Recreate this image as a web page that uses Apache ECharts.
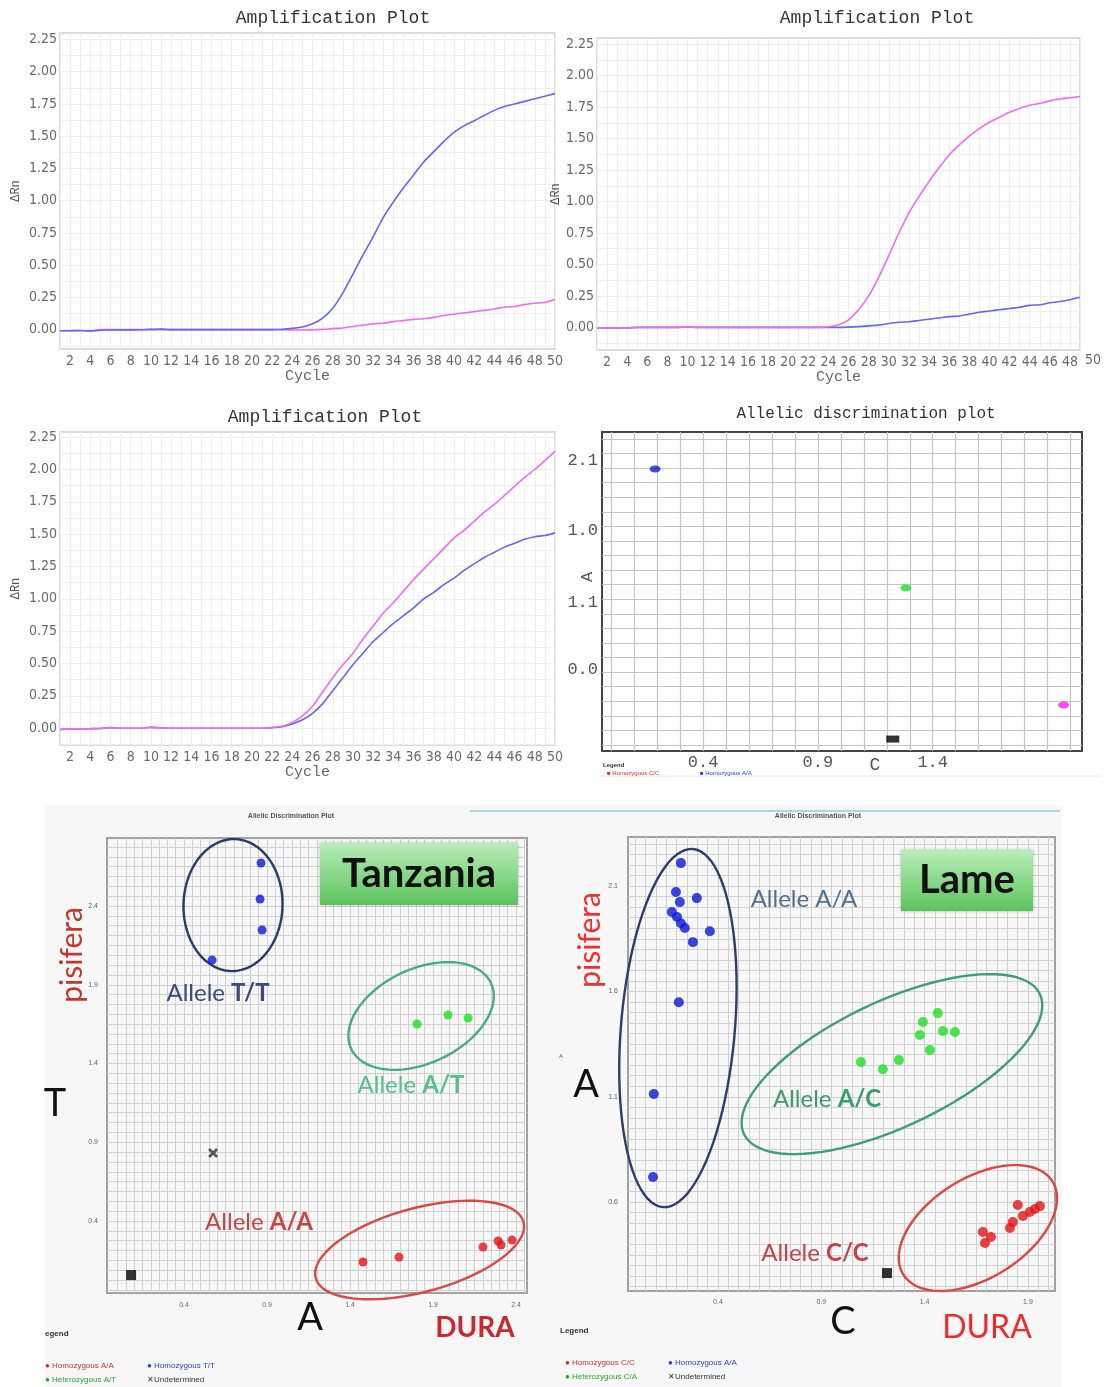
<!DOCTYPE html>
<html><head><meta charset="utf-8">
<script src="https://cdn.jsdelivr.net/npm/echarts@6/dist/echarts.min.js"></script>
<style>html,body{margin:0;padding:0;background:#fff}#c{width:1108px;height:1387px}</style>
</head><body><div id="c"></div><script>
// ---------- amplification plots ----------
const cycles = [1,2,3,4,5,6,7,8,9,10,11,12,13,14,15,16,17,18,19,20,21,22,23,24,25,26,27,28,29,30,31,32,33,34,35,36,37,38,39,40,41,42,43,44,45,46,47,48,49,50];
const amp1Blue = [-0.01,-0.008,-0.006,-0.01,-0.005,-0.003,-0.002,-0.002,-0.001,0.002,0.004,0,0,0,0,0,0,0,0,0,0,0,0.003,0.01,0.02,0.045,0.09,0.165,0.285,0.43,0.58,0.72,0.87,0.99,1.10,1.20,1.30,1.38,1.46,1.53,1.58,1.62,1.66,1.70,1.73,1.75,1.77,1.79,1.81,1.83];
const amp1Pink = [-0.008,-0.008,-0.008,-0.008,0,0,0,0,0,0,0,0,0,0,0,0,0,0,0,0,0,0,-0.002,-0.003,-0.003,-0.002,0.002,0.008,0.013,0.025,0.035,0.045,0.05,0.062,0.07,0.08,0.085,0.095,0.11,0.12,0.13,0.14,0.15,0.16,0.175,0.18,0.195,0.205,0.21,0.235];
const amp2Pink = [-0.005,-0.005,-0.004,-0.005,0,0,0,0,0,0.003,0,0,0,0,0,0,0,0,0,0,0,0,0,0.005,0.02,0.06,0.14,0.25,0.40,0.57,0.75,0.91,1.04,1.16,1.27,1.37,1.45,1.52,1.58,1.63,1.67,1.71,1.74,1.765,1.78,1.80,1.815,1.825,1.835];
const amp2Blue = [-0.005,-0.005,-0.005,-0.005,0,0,0,0,0,0.002,0,0,0,0,0,0,0,0,0,0,0,0,0,0,0,0.002,0.006,0.012,0.018,0.03,0.04,0.045,0.055,0.065,0.075,0.085,0.09,0.105,0.12,0.13,0.14,0.15,0.16,0.175,0.18,0.195,0.205,0.22,0.24];
const amp3Pink = [-0.01,-0.005,-0.005,-0.004,-0.002,0.004,0,0,0,0.006,0.003,0,0,0,0,0,0,0,0,0,0,0.005,0.015,0.045,0.095,0.17,0.28,0.39,0.49,0.58,0.69,0.79,0.89,0.97,1.06,1.15,1.23,1.31,1.39,1.47,1.53,1.60,1.67,1.73,1.80,1.87,1.94,2.00,2.07,2.14];
const amp3Blue = [-0.01,-0.005,-0.005,-0.004,-0.002,0.004,0,0,0,0.006,0.003,0,0,0,0,0,0,0,0,0,0,0.004,0.012,0.033,0.065,0.115,0.19,0.29,0.39,0.49,0.58,0.67,0.74,0.81,0.87,0.93,1.00,1.05,1.11,1.16,1.22,1.27,1.32,1.36,1.40,1.43,1.46,1.48,1.49,1.51];
const ampXLabels = [2,4,6,8,10,12,14,16,18,20,22,24,26,28,30,32,34,36,38,40,42,44,46,48,50];
const ampYLabels = [0,0.25,0.5,0.75,1,1.25,1.5,1.75,2,2.25];
const ampYGrid = [-0.125,0,0.125,0.25,0.375,0.5,0.625,0.75,0.875,1,1.125,1.25,1.375,1.5,1.625,1.75,1.875,2,2.125,2.25];

// ---------- allelic discrimination (middle right) ----------
const adHomAA = [[0.191,1.894]];
const adHet = [[1.283,1.078]];
const adHomCC = [[1.97,0.275]];
const adNTC = [[1.226,0.041]];
const adXLabels = [0.4,0.9,1.4];
const adYLabelPos = [0.52,0.98,1.47,1.95];
const adYLabels = ['0.0','1.1','1.0','2.1'];

// ---------- Tanzania ----------
const tzHomTT = [[0.864,2.673],[0.858,2.444],[0.870,2.248],[0.569,2.057]];
const tzHetAT = [[1.804,1.651],[1.990,1.708],[2.111,1.689]];
const tzHomAA = [[1.478,0.140],[1.695,0.171],[2.201,0.235],[2.292,0.273],[2.310,0.248],[2.376,0.279]];
const tzUndet = [[0.575,0.832]];
const tzNTC = [[0.081,0.057]];
const tzXLabels = [0.4,0.9,1.4,1.9,2.4];
const tzYLabels = [0.4,0.9,1.4,1.9,2.4];
// ellipse annotations: [centerX, centerY, majorTipX, majorTipY, minor/major]
const tzEllTT = [[0.695,2.406,0.707,2.825,0.75]];
const tzEllAT = [[1.828,1.702,2.249,1.911,0.61]];
const tzEllAA = [[1.819,0.216,2.445,0.394,0.39]];

// ---------- Lame ----------
const lmHomAA = [[0.221,2.209],[0.197,2.072],[0.298,2.043],[0.216,2.024],[0.177,1.977],[0.202,1.953],[0.221,1.924],[0.240,1.901],[0.361,1.886],[0.279,1.834],[0.211,1.549],[0.090,1.113],[0.086,0.719]];
const lmHetAC = [[1.464,1.497],[1.392,1.455],[1.377,1.393],[1.489,1.412],[1.547,1.407],[1.426,1.322],[1.276,1.274],[1.198,1.231],[1.092,1.265]];
const lmHomCC = [[1.851,0.586],[1.958,0.581],[1.934,0.567],[1.909,0.553],[1.876,0.534],[1.827,0.505],[1.813,0.477],[1.682,0.458],[1.721,0.434],[1.692,0.406]];
const lmNTC = [[1.218,0.263]];
const lmXLabels = [0.4,0.9,1.4,1.9];
const lmYLabels = [0.6,1.1,1.6,2.1];
const lmEllAA = [[0.2065,1.426,0.279,2.276,0.317]];
const lmEllAC = [[1.242,1.255,1.958,1.587,0.383]];
const lmEllCC = [[1.658,0.477,2.019,0.698,0.568]];

// ---------- helpers ----------
const MONO = "'Liberation Mono','DejaVu Sans Mono',monospace";
const NARROW = "'Liberation Sans Narrow','DejaVu Sans Condensed','Liberation Sans',sans-serif";
const LATO = "Lato,'Open Sans',sans-serif";
function steps(a, b, s) { const o = []; for (let k = 0; a + k * s <= b + 1e-9; k++) o.push(+(a + k * s).toFixed(4)); return o; }
function pairs(xs, ys) { return ys.map((v, i) => [xs[i], v]); }

function ampX(g, max) {
  return {type:'value', gridIndex:g, min:1, max:max, interval:1,
    axisLine:{show:false}, axisTick:{show:false},
    splitLine:{show:true, lineStyle:{color:'#efefef', width:1}},
    axisLabel:{customValues: ampXLabels.filter(v => v <= max), fontFamily:NARROW, fontSize:14, color:'#6a6a6a', margin:5},
    name:'Cycle', nameLocation:'middle', nameGap:18, nameTextStyle:{fontFamily:MONO, fontSize:15, color:'#666'}};
}
function ampY(g, min, max, gap) {
  return {type:'value', gridIndex:g, min:min, max:max,
    axisLine:{show:false}, axisTick:{show:false, customValues: ampYGrid},
    splitLine:{show:true, lineStyle:{color:'#efefef', width:1}},
    axisLabel:{customValues: ampYLabels, formatter: v => v.toFixed(2), fontFamily:NARROW, fontSize:14, color:'#6a6a6a', margin:3},
    name:'ΔRn', nameLocation:'middle', nameRotate:90, nameGap:gap, nameTextStyle:{fontFamily:MONO, fontSize:12, color:'#555'}};
}
function line(xi, data, color) {
  return {type:'line', xAxisIndex:xi, yAxisIndex:xi, data:data, smooth:0.3, showSymbol:false, symbol:'none',
    lineStyle:{color:color, width:1.6}, itemStyle:{color:color}, silent:true};
}
function scatter(xi, data, color, size, symbol) {
  return {type:'scatter', xAxisIndex:xi, yAxisIndex:xi, data:data, symbol:symbol || 'circle', symbolSize:size,
    itemStyle:{color:color}, z:5, silent:true};
}
function ellipseItem(params, api) {
  const c = api.coord([api.value(0), api.value(1)]);
  const t = api.coord([api.value(2), api.value(3)]);
  const ratio = api.value(4);
  const dx = t[0] - c[0], dy = t[1] - c[1];
  const a = Math.hypot(dx, dy), ux = dx / a, uy = dy / a, b = a * ratio;
  const pts = [];
  for (let i = 0; i <= 90; i++) {
    const th = i / 90 * 2 * Math.PI, ca = Math.cos(th) * a, sb = Math.sin(th) * b;
    pts.push([c[0] + ca * ux - sb * uy, c[1] + ca * uy + sb * ux]);
  }
  return {type:'polyline', shape:{points:pts}, style:{fill:null, stroke:api.visual('color'), lineWidth:2.4}};
}
function ellipse(xi, data, color) {
  return {type:'custom', xAxisIndex:xi, yAxisIndex:xi, data:data, renderItem:ellipseItem, clip:false,
    dimensions:['cx','cy','tx','ty','r'], encode:{x:[0,2], y:[1,3]}, itemStyle:{color:color}, z:4, silent:true};
}
function smallAxis(g, min, max, grid, labels, margin) {
  return {type:'value', gridIndex:g, min:min, max:max, axisLine:{show:false},
    axisTick:{show:false, customValues:grid}, splitLine:{show:true, lineStyle:{color:'#d0d0d0', width:1}},
    axisLabel:{customValues:labels, formatter:v => v.toFixed(1), fontSize:7, fontFamily:'Liberation Sans', color:'#666', margin:margin}};
}
function T(x, y, text, st, extra) {
  return Object.assign({type:'text', x:x, y:y, z:50,
    style:Object.assign({text:text, align:'center', verticalAlign:'middle', fontFamily:LATO, fontSize:24, fill:'#000'}, st)}, extra || {});
}
function R(text, col, boldPart, size) {
  return {text:'{a|' + text + '}{b|' + boldPart + '}',
    rich:{a:{fontFamily:LATO, fontSize:size, fill:col}, b:{fontFamily:LATO, fontSize:size, fontWeight:'bold', fill:col}}};
}

const tzYGrid = steps(0.4 - 7 * 0.0625, 2.83, 0.0625);
const greenGrad = new echarts.graphic.LinearGradient(0, 0, 0, 1, [{offset:0, color:'#b9ecb9'}, {offset:1, color:'#5cc45c'}]);

const option = {
  animation:false,
  backgroundColor:'#fff',
  grid:[
    {left:60, top:33, width:495, height:316, show:true, borderColor:'#d0d0d0', borderWidth:1.5},
    {left:597, top:38, width:483, height:312, show:true, borderColor:'#d0d0d0', borderWidth:1.5},
    {left:60, top:432, width:495, height:313, show:true, borderColor:'#d0d0d0', borderWidth:1.5},
    {left:602, top:432, width:480, height:319, show:true, borderColor:'#444', borderWidth:2},
    {left:107, top:838, width:420, height:455, show:true, borderColor:'#a0a0a0', borderWidth:2},
    {left:628, top:837, width:427, height:454, show:true, borderColor:'#a0a0a0', borderWidth:2}
  ],
  xAxis:[
    ampX(0, 50), ampX(1, 49), ampX(2, 50),
    {type:'value', gridIndex:3, min:-0.04, max:2.05, axisLine:{show:false},
      axisTick:{show:false, customValues:steps(0, 2.0, 0.1)}, splitLine:{show:true, lineStyle:{color:'#c4c4c4', width:1.2}},
      axisLabel:{customValues:adXLabels, formatter:v => v.toFixed(1), fontFamily:MONO, fontSize:17, color:'#555', margin:3}},
    smallAxis(4, -0.064, 2.466, steps(0, 2.45, 0.05), tzXLabels, 9),
    smallAxis(5, -0.035, 2.031, steps(0, 2.0, 0.05), lmXLabels, 8)
  ],
  yAxis:[
    ampY(0, -0.15, 2.3, 38), ampY(1, -0.18, 2.3, 33), ampY(2, -0.13, 2.29, 38),
    {type:'value', gridIndex:3, min:-0.041, max:2.148, axisLine:{show:false},
      axisTick:{show:false, customValues:steps(0, 2.1, 0.1)}, splitLine:{show:true, lineStyle:{color:'#c4c4c4', width:1.2}},
      axisLabel:{customValues:adYLabelPos, formatter:v => { const i = adYLabelPos.findIndex(p => Math.abs(p - v) < 1e-6); return i >= 0 ? adYLabels[i] : ''; },
        fontFamily:MONO, fontSize:17, color:'#555', margin:4}},
    smallAxis(4, -0.057, 2.832, tzYGrid, tzYLabels, 9),
    smallAxis(5, 0.178, 2.333, steps(0.2, 2.3, 0.05), lmYLabels, 10)
  ],
  series:[
    line(0, pairs(cycles, amp1Pink), '#ef6cef'),
    line(0, pairs(cycles, amp1Blue), '#6666ee'),
    line(1, pairs(cycles, amp2Blue), '#6666ee'),
    line(1, pairs(cycles, amp2Pink), '#ef6cef'),
    line(2, pairs(cycles, amp3Blue), '#6666ee'),
    line(2, pairs(cycles, amp3Pink), '#ef6cef'),
    scatter(3, adHomAA, '#1020c8', [11,7]),
    scatter(3, adHet, '#22dd22', [11,7]),
    scatter(3, adHomCC, '#f020f0', [11,7]),
    scatter(3, adNTC, '#000', [13,7], 'rect'),
    ellipse(4, tzEllTT, '#2c3a6a'),
    ellipse(4, tzEllAT, '#45ad80'),
    ellipse(4, tzEllAA, '#d64a4a'),
    scatter(4, tzHomTT, '#0a18d8', 9),
    scatter(4, tzHetAT, '#1ee01e', 9),
    scatter(4, tzHomAA, '#e41414', 9),
    scatter(4, tzUndet, '#333', 10, 'path://M2,0L5,3L8,0L10,2L7,5L10,8L8,10L5,7L2,10L0,8L3,5L0,2Z'),
    scatter(4, tzNTC, '#000', 10, 'rect'),
    ellipse(5, lmEllAA, '#2e3d6c'),
    ellipse(5, lmEllAC, '#3f9f72'),
    ellipse(5, lmEllCC, '#dc4646'),
    scatter(5, lmHomAA, '#0a18d8', 10),
    scatter(5, lmHetAC, '#1ee01e', 10),
    scatter(5, lmHomCC, '#e41414', 10),
    scatter(5, lmNTC, '#000', 10, 'rect')
  ],
  graphic:[
    {type:'rect', z:-10, shape:{x:45, y:806, width:1017, height:581}, style:{fill:'#f7f7f7'}},
    {type:'line', z:1, shape:{x1:470, y1:811, x2:1060, y2:811}, style:{stroke:'#aad8df', lineWidth:2}},
    {type:'line', z:1, shape:{x1:600, y1:776, x2:1100, y2:776}, style:{stroke:'#e6e6e6', lineWidth:1}},
    T(333, 18, 'Amplification Plot', {fontFamily:MONO, fontSize:18, fill:'#333'}),
    T(877, 18, 'Amplification Plot', {fontFamily:MONO, fontSize:18, fill:'#333'}),
    T(325, 417, 'Amplification Plot', {fontFamily:MONO, fontSize:18, fill:'#333'}),
    T(866, 414, 'Allelic discrimination plot', {fontFamily:MONO, fontSize:16, fill:'#333'}),
    T(1093, 360, String(ampXLabels[ampXLabels.length - 1]), {fontFamily:NARROW, fontSize:14, fill:'#6a6a6a'}),
    T(875, 765, 'C', {fontFamily:MONO, fontSize:18, fill:'#555'}),
    T(587, 577, 'A', {fontFamily:MONO, fontSize:17, fill:'#555'}, {rotation:Math.PI / 2}),
    T(603, 765, 'Legend', {align:'left', fontFamily:'Liberation Sans', fontWeight:'bold', fontSize:6, fill:'#333'}),
    T(607, 773, '■ Homozygous C/C', {align:'left', fontFamily:'Liberation Sans', fontSize:6, fill:'#e03030'}),
    T(700, 773, '■ Homozygous A/A', {align:'left', fontFamily:'Liberation Sans', fontSize:6, fill:'#3040d0'}),
    // Tanzania
    T(291, 816, 'Allelic Discrimination Plot', {fontFamily:'Liberation Sans', fontSize:7, fontWeight:'bold', fill:'#555'}),
    {type:'rect', z:45, shape:{x:320, y:843, width:198, height:62}, style:{fill:greenGrad, shadowBlur:3, shadowColor:'rgba(0,0,0,0.25)'}},
    T(419, 874, 'Tanzania', {fontSize:40, fontWeight:'bold', fill:'#111'}),
    T(218, 993, '', R('Allele ', '#3b4c7c', 'T/T', 24)),
    T(411, 1085, '', R('Allele ', '#55c08d', 'A/T', 24)),
    T(259, 1222, '', R('Allele ', '#c94545', 'A/A', 24)),
    T(72, 955, 'pisifera', {fontSize:30, fill:'#c0392b'}, {rotation:Math.PI / 2}),
    T(55, 1104, 'T', {fontSize:38, fill:'#111'}),
    T(310, 1318, 'A', {fontSize:38, fill:'#111'}),
    T(475, 1328, 'DURA', {fontSize:28, fontWeight:'bold', fill:'#c8282e'}),
    T(45, 1334, 'egend', {align:'left', fontFamily:'Liberation Sans', fontWeight:'bold', fontSize:8, fill:'#333'}),
    T(45, 1366, '● Homozygous A/A', {align:'left', fontFamily:'Liberation Sans', fontSize:8, fill:'#d03030'}),
    T(147, 1366, '● Homozygous T/T', {align:'left', fontFamily:'Liberation Sans', fontSize:8, fill:'#3040c8'}),
    T(45, 1380, '● Heterozygous A/T', {align:'left', fontFamily:'Liberation Sans', fontSize:8, fill:'#30a030'}),
    T(147, 1380, '✕Undetermined', {align:'left', fontFamily:'Liberation Sans', fontSize:8, fill:'#333'}),
    // Lame
    T(818, 816, 'Allelic Discrimination Plot', {fontFamily:'Liberation Sans', fontSize:7, fontWeight:'bold', fill:'#555'}),
    {type:'rect', z:45, shape:{x:901, y:850, width:132, height:61}, style:{fill:greenGrad, shadowBlur:3, shadowColor:'rgba(0,0,0,0.25)'}},
    T(967, 880, 'Lame', {fontSize:40, fontWeight:'bold', fill:'#111'}),
    T(804, 899, 'Allele A/A', {fontSize:24, fill:'#51708f'}),
    T(827, 1099, '', R('Allele ', '#3d9c6c', 'A/C', 24)),
    T(815, 1253, '', R('Allele ', '#c8414b', 'C/C', 24)),
    T(590, 940, 'pisifera', {fontSize:30, fill:'#ee3030'}, {rotation:Math.PI / 2}),
    T(586, 1085, 'A', {fontSize:38, fill:'#111'}),
    T(561, 1056, 'A', {fontSize:6, fill:'#555', fontFamily:'Liberation Sans'}),
    T(843, 1322, 'C', {fontSize:38, fill:'#111'}),
    T(987, 1328, 'DURA', {fontSize:32, fill:'#ee2a2a'}),
    T(560, 1331, 'Legend', {align:'left', fontFamily:'Liberation Sans', fontWeight:'bold', fontSize:8, fill:'#333'}),
    T(565, 1363, '● Homozygous C/C', {align:'left', fontFamily:'Liberation Sans', fontSize:8, fill:'#d03030'}),
    T(668, 1363, '● Homozygous A/A', {align:'left', fontFamily:'Liberation Sans', fontSize:8, fill:'#3040c8'}),
    T(565, 1377, '● Heterozygous C/A', {align:'left', fontFamily:'Liberation Sans', fontSize:8, fill:'#30a030'}),
    T(668, 1377, '✕Undetermined', {align:'left', fontFamily:'Liberation Sans', fontSize:8, fill:'#333'})
  ]
};
const chart = echarts.init(document.getElementById('c'), null, {renderer:'canvas'});
chart.setOption(option);
</script></body></html>
